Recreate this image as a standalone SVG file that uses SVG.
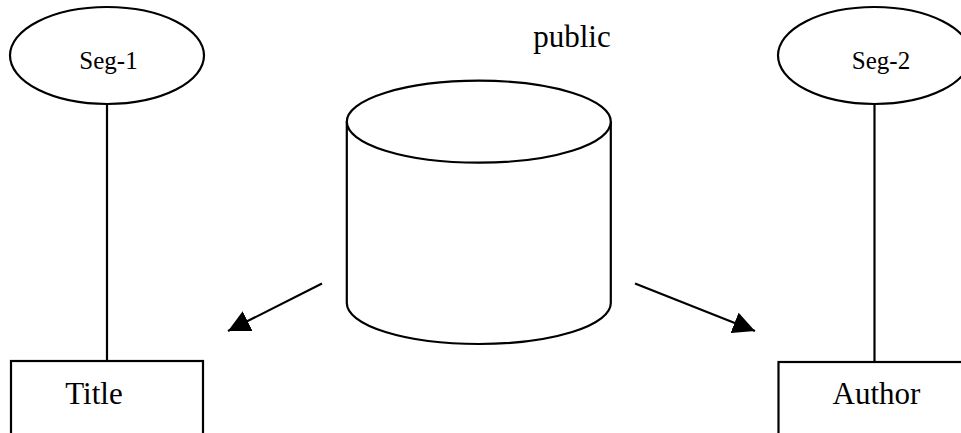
<svg xmlns="http://www.w3.org/2000/svg" width="961" height="433" viewBox="0 0 961 433">
  <style>
    .shape { fill: #ffffff; stroke: #000000; stroke-width: 2.2; }
    .wire { fill: none; stroke: #000000; stroke-width: 2.2; }
    .lbl { font-family: "Liberation Serif", "Times New Roman", serif; fill: #000000; text-anchor: middle; }
    .seg { font-size: 25px; }
    .big { font-size: 31px; }
  </style>
  <defs>
    <marker id="arrowhead" markerUnits="userSpaceOnUse" markerWidth="24" markerHeight="22" refX="22" refY="11" orient="auto">
      <path d="M0,0 L22,11 L0,22 Z" fill="#000000"/>
    </marker>
  </defs>
  <rect width="961" height="433" fill="#ffffff"/>

  <!-- connectors -->
  <g id="connectors">
    <line class="wire" x1="107" y1="104" x2="107" y2="361"/>
    <line class="wire" x1="874.5" y1="104" x2="874.5" y2="362"/>
    <line class="wire" x1="322" y1="283.5" x2="228" y2="331" marker-end="url(#arrowhead)"/>
    <line class="wire" x1="635" y1="283.5" x2="755" y2="331" marker-end="url(#arrowhead)"/>
  </g>

  <g id="seg1">
    <ellipse class="shape" cx="107" cy="55.5" rx="97" ry="48.5"/>
    <text class="lbl seg" x="108.5" y="68.5">Seg-1</text>
  </g>

  <g id="seg2">
    <ellipse class="shape" cx="874.5" cy="55.5" rx="96.5" ry="48.5"/>
    <text class="lbl seg" x="881" y="69">Seg-2</text>
  </g>

  <g id="public">
    <text class="lbl big" x="572" y="47">public</text>
    <path class="shape" d="M346.8,121.7 L346.8,303 A132,41 0 0 0 610.8,303 L610.8,121.7"/>
    <ellipse class="shape" cx="478.8" cy="121.7" rx="132" ry="41"/>
  </g>

  <g id="title">
    <rect class="shape" x="11" y="361" width="192" height="90"/>
    <text class="lbl big" x="94" y="404">Title</text>
  </g>

  <g id="author">
    <rect class="shape" x="778.5" y="362" width="200" height="90"/>
    <text class="lbl big" x="876.5" y="404">Author</text>
  </g>
</svg>
